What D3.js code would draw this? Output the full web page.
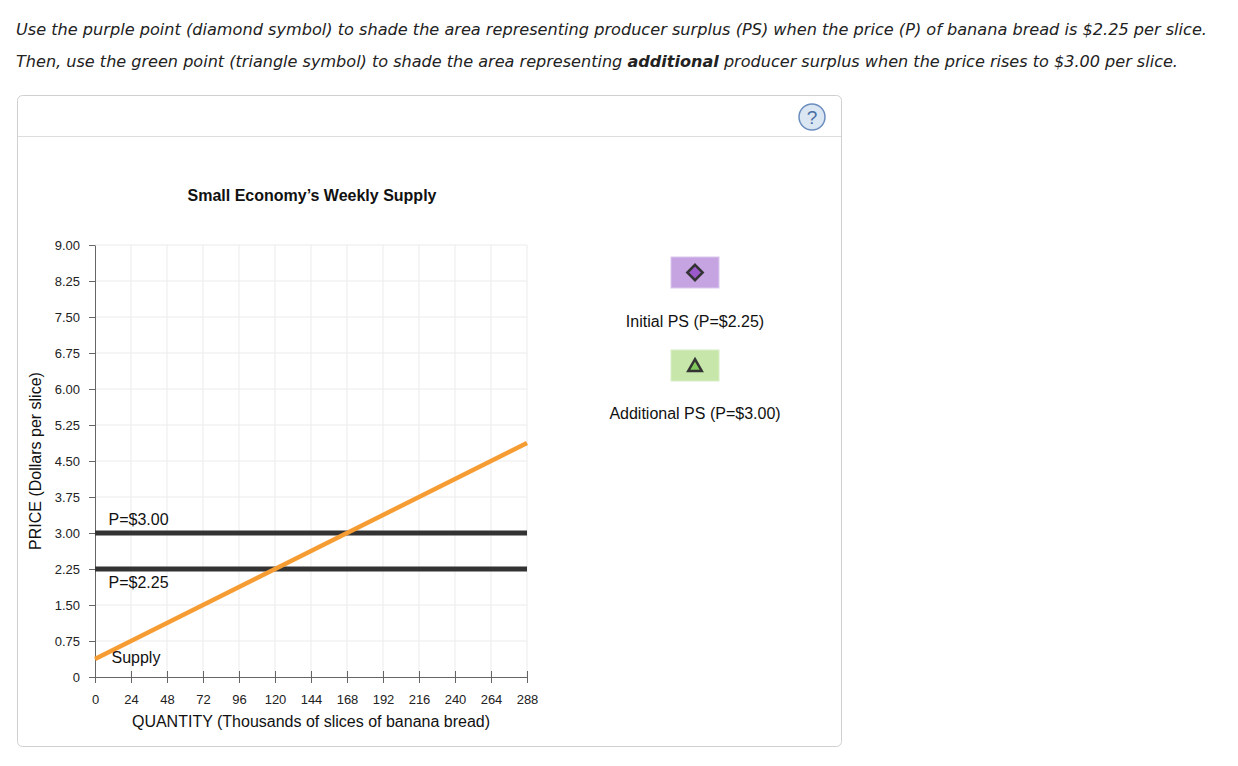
<!DOCTYPE html>
<html><head><meta charset="utf-8">
<script src="https://cdn.jsdelivr.net/npm/d3@7"></script>
<style>
body{margin:0;background:#fff;}
svg{display:block;}
</style></head>
<body>
<svg id="c" width="1238" height="766"></svg>
<script>
const xTicks = [0,24,48,72,96,120,144,168,192,216,240,264,288];
const yTicks = [0,0.75,1.5,2.25,3.0,3.75,4.5,5.25,6.0,6.75,7.5,8.25,9.0];
const supplyQ = [0, 288];
const supplyP = [0.375, 4.875];
const priceLevels = [3.00, 2.25];
const priceLabels = ["P=$3.00", "P=$2.25"];
const legendLabels = ["Initial PS (P=$2.25)", "Additional PS (P=$3.00)"];

const svg = d3.select("#c");
const F = "Liberation Sans, Arial, sans-serif";

// instructions
const instr = svg.append("g").attr("font-family","DejaVu Sans, Verdana, sans-serif").attr("font-size",15.6).attr("font-style","italic").attr("fill","#222");
instr.append("text").attr("x",16).attr("y",35).attr("textLength",1191).attr("lengthAdjust","spacingAndGlyphs").text("Use the purple point (diamond symbol) to shade the area representing producer surplus (PS) when the price (P) of banana bread is $2.25 per slice.");
const t2 = instr.append("text").attr("x",16).attr("y",67).attr("textLength",1162).attr("lengthAdjust","spacingAndGlyphs");
t2.append("tspan").text("Then, use the green point (triangle symbol) to shade the area representing ");
t2.append("tspan").attr("font-weight","bold").text("additional");
t2.append("tspan").text(" producer surplus when the price rises to $3.00 per slice.");

// panel
svg.append("rect").attr("x",17.5).attr("y",95.5).attr("width",824).attr("height",651).attr("rx",5).attr("fill","#fff").attr("stroke","#d0d0d0");
svg.append("line").attr("x1",18).attr("x2",841).attr("y1",136.5).attr("y2",136.5).attr("stroke","#ddd");
svg.append("circle").attr("cx",812).attr("cy",117).attr("r",13).attr("fill","#dbe6f3").attr("stroke","#6c8ebf").attr("stroke-width",1.5);
svg.append("text").attr("x",812).attr("y",124).attr("text-anchor","middle").attr("font-family",F).attr("font-size",19).attr("fill","#4a6fa5").text("?");

const x = d3.scaleLinear().domain([0,288]).range([95,527]);
const y = d3.scaleLinear().domain([0,9]).range([677,245]);

// grid
svg.append("g").selectAll("line").data(xTicks.slice(1)).join("line")
  .attr("x1",d=>x(d)).attr("x2",d=>x(d)).attr("y1",y(0)).attr("y2",y(9)).attr("stroke","#ebebeb");
svg.append("g").selectAll("line").data(yTicks.slice(1)).join("line")
  .attr("x1",x(0)).attr("x2",x(288)).attr("y1",d=>y(d)).attr("y2",d=>y(d)).attr("stroke","#ebebeb");

// axes
const xa = svg.append("g").attr("transform",`translate(0,${y(0)})`)
  .call(d3.axisBottom(x).tickValues(xTicks).tickSize(6).tickSizeOuter(0).tickPadding(12).tickFormat(d3.format("d")));
xa.selectAll(".tick line").attr("y1",-6).attr("y2",6);
const ya = svg.append("g").attr("transform",`translate(${x(0)},0)`)
  .call(d3.axisLeft(y).tickValues(yTicks).tickSize(6).tickSizeOuter(0).tickPadding(9).tickFormat(d=>d===0?"0":d3.format(".2f")(d)));
ya.selectAll(".tick line").attr("x1",-6).attr("x2",0);
[xa,ya].forEach(a=>{
  a.selectAll("path,line").attr("stroke","#666");
  a.selectAll("text").attr("font-family",F).attr("font-size",13).attr("fill","#222");
});

// title
svg.append("text").attr("x",312).attr("y",201).attr("text-anchor","middle").attr("font-family",F).attr("font-weight","bold").attr("font-size",16).attr("fill","#111").text("Small Economy\u2019s Weekly Supply");

// axis labels
svg.append("text").attr("x",311).attr("y",727).attr("text-anchor","middle").attr("font-family",F).attr("font-size",16).attr("fill","#111").text("QUANTITY (Thousands of slices of banana bread)");
svg.append("text").attr("transform",`translate(41,${y(4.5)}) rotate(-90)`).attr("text-anchor","middle").attr("font-family",F).attr("font-size",16).attr("fill","#111").text("PRICE (Dollars per slice)");

// price lines
svg.append("g").selectAll("line").data(priceLevels).join("line")
  .attr("x1",x(0)).attr("x2",x(288)).attr("y1",d=>y(d)).attr("y2",d=>y(d)).attr("stroke","#333").attr("stroke-width",5);

// supply
const line = d3.line().x(d=>x(d[0])).y(d=>y(d[1]));
svg.append("path").datum(supplyQ.map((q,i)=>[q,supplyP[i]])).attr("d",line).attr("fill","none").attr("stroke","#f59d32").attr("stroke-width",4.5);

// labels
svg.append("text").attr("x",x(9)).attr("y",y(3.00)-8).attr("font-family",F).attr("font-size",16).attr("fill","#111").text(priceLabels[0]);
svg.append("text").attr("x",x(9)).attr("y",y(2.25)+19).attr("font-family",F).attr("font-size",16).attr("fill","#111").text(priceLabels[1]);
svg.append("text").attr("x",x(11)).attr("y",y(0.375)+4).attr("font-family",F).attr("font-size",16).attr("fill","#111").text("Supply");

// legend
const lx = 695;
svg.append("rect").attr("x",671).attr("y",257).attr("width",48).attr("height",31).attr("fill","#c6a3e1").attr("stroke","#dcc8ee");
svg.append("path").attr("d",d3.symbol().type(d3.symbolDiamond2).size(150)()).attr("transform","translate(695,272.5)").attr("fill","#9b59c9").attr("stroke","#333").attr("stroke-width",2.5);
svg.append("text").attr("x",lx).attr("y",327).attr("text-anchor","middle").attr("font-family",F).attr("font-size",16).attr("fill","#111").text(legendLabels[0]);
svg.append("rect").attr("x",671).attr("y",350).attr("width",48).attr("height",31).attr("fill","#c6e6aa").attr("stroke","#d8eec5");
svg.append("path").attr("d",d3.symbol().type(d3.symbolTriangle2).size(130)()).attr("transform","translate(695,367)").attr("fill","#7fc75a").attr("stroke","#333").attr("stroke-width",2.5);
svg.append("text").attr("x",lx).attr("y",419).attr("text-anchor","middle").attr("font-family",F).attr("font-size",16).attr("fill","#111").text(legendLabels[1]);
</script>
</body></html>
